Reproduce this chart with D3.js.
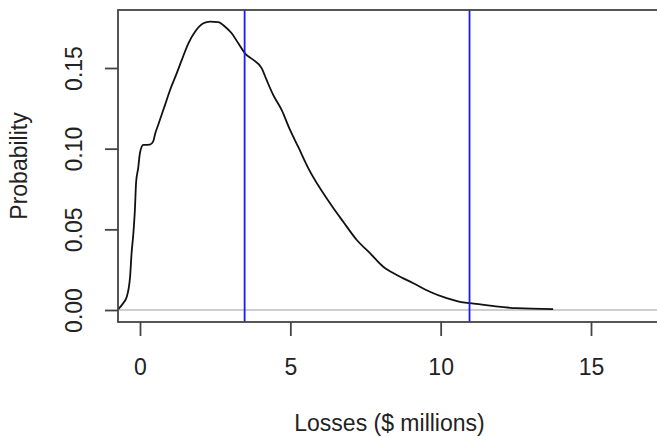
<!DOCTYPE html>
<html>
<head>
<meta charset="utf-8">
<script src="https://cdn.jsdelivr.net/npm/d3@7"></script>
<style>
  body { margin: 0; background: #fff; }
  .canvas text { font-family: "Liberation Sans", Arial, sans-serif; fill: #222; }
</style>
</head>
<body>
<div class="canvas"></div>
<script>
// data
const lossX = [-0.72, -0.56, -0.44, -0.33, -0.28, -0.22, -0.17, -0.13, -0.06, 0.0, 0.11, 0.33, 0.44, 0.50, 0.61, 0.72, 0.83, 1.0, 1.22, 1.39, 1.61, 1.83, 2.11, 2.33, 2.60, 2.83, 3.05, 3.27, 3.49, 3.77, 4.05, 4.21, 4.43, 4.71, 4.99, 5.26, 5.60, 6.32, 6.76, 7.21, 7.65, 8.09, 8.54, 9.09, 9.64, 10.2, 10.64, 10.97, 11.64, 12.53, 13.74];
const probY = [0.0006, 0.0042, 0.0082, 0.0206, 0.0352, 0.0476, 0.062, 0.0790, 0.0880, 0.0975, 0.1023, 0.1025, 0.1045, 0.1090, 0.1150, 0.1210, 0.1270, 0.1364, 0.1467, 0.155, 0.1653, 0.1725, 0.1777, 0.1787, 0.1784, 0.1756, 0.1715, 0.1653, 0.1591, 0.155, 0.1498, 0.1426, 0.1333, 0.124, 0.1116, 0.1012, 0.0878, 0.0662, 0.0547, 0.0434, 0.0352, 0.0268, 0.0217, 0.0166, 0.0113, 0.0073, 0.0051, 0.0042, 0.0027, 0.0011, 0.0006];
const markers = [3.48, 10.96];
const xTicks = [0, 5, 10, 15];
const yTicks = [0, 0.05, 0.10, 0.15];

const width = 657, height = 437;
const plotLeft = 118, plotTop = 10, plotRight = 661, plotBottom = 322;

const svg = d3.select(".canvas").append("svg")
  .attr("width", width)
  .attr("height", height);

// x(0)=140, x(15)=591 ; y(0)=310, y(0.15)=68
const x = d3.scaleLinear().domain([0, 15]).range([140, 591]);
const y = d3.scaleLinear().domain([0, 0.15]).range([310, 68]);

// zero line
svg.append("line")
  .attr("x1", plotLeft).attr("x2", plotRight)
  .attr("y1", y(0)).attr("y2", y(0))
  .attr("stroke", "#bebebe")
  .attr("stroke-width", 1.5);

// density curve
const line = d3.line()
  .x((d, i) => x(lossX[i]))
  .y(d => y(d))
  .curve(d3.curveMonotoneX);

svg.append("path")
  .attr("d", line(probY))
  .attr("fill", "none")
  .attr("stroke", "#111")
  .attr("stroke-width", 1.8);

// vertical markers
svg.selectAll(".marker")
  .data(markers)
  .join("line")
  .attr("class", "marker")
  .attr("x1", d => x(d)).attr("x2", d => x(d))
  .attr("y1", plotTop).attr("y2", plotBottom)
  .attr("stroke", "#1a1aff")
  .attr("stroke-width", 1.8);

// box (right side falls off the page)
svg.append("rect")
  .attr("x", plotLeft).attr("y", plotTop)
  .attr("width", plotRight - plotLeft).attr("height", plotBottom - plotTop)
  .attr("fill", "none")
  .attr("stroke", "#444")
  .attr("stroke-width", 1.8);

// axes
const xAxis = svg.append("g")
  .attr("transform", `translate(0,${plotBottom})`)
  .call(d3.axisBottom(x).tickValues(xTicks).tickSize(14).tickPadding(0));
xAxis.select(".domain").remove();
xAxis.selectAll(".tick line").attr("stroke", "#444").attr("stroke-width", 1.8);
xAxis.selectAll(".tick text")
  .attr("y", 53).attr("dy", 0)
  .style("font-size", "23px");

const yAxis = svg.append("g")
  .attr("transform", `translate(${plotLeft},0)`)
  .call(d3.axisLeft(y).tickValues(yTicks).tickFormat(d3.format(".2f")).tickSize(13));
yAxis.select(".domain").remove();
yAxis.selectAll(".tick line").attr("stroke", "#444").attr("stroke-width", 1.8);
yAxis.selectAll(".tick text")
  .attr("transform", "rotate(-90)")
  .attr("x", 0).attr("y", -36).attr("dy", 0)
  .attr("text-anchor", "middle")
  .style("font-size", "23px");

// titles
svg.append("text")
  .attr("x", (plotLeft + plotRight) / 2)
  .attr("y", 431)
  .attr("text-anchor", "middle")
  .style("font-size", "23px")
  .text("Losses ($ millions)");

svg.append("text")
  .attr("transform", `translate(27,${(plotTop + plotBottom) / 2}) rotate(-90)`)
  .attr("text-anchor", "middle")
  .style("font-size", "23px")
  .text("Probability");
</script>
</body>
</html>
